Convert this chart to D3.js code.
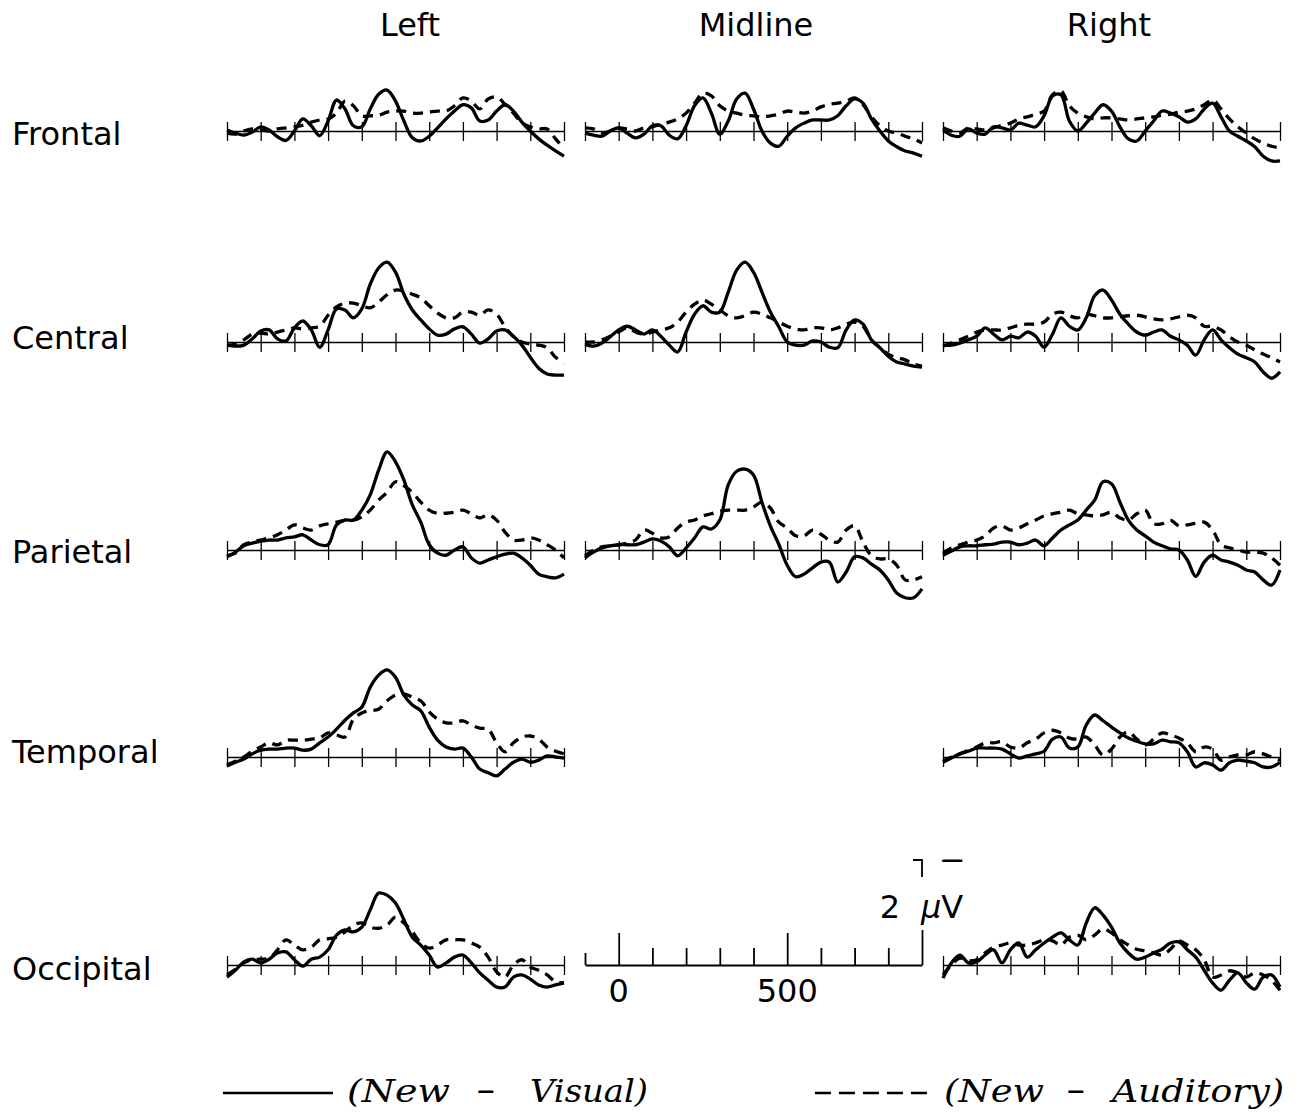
<!DOCTYPE html>
<html><head><meta charset="utf-8">
<script src="https://cdn.jsdelivr.net/npm/d3@7"></script>
<style>body{margin:0;background:#fff}svg{display:block}</style>
</head><body>
<svg id="c" width="1307" height="1115"></svg>
<script>
// ---------- categories & ticks ----------
const columns = ["Left", "Midline", "Right"];
const regions = ["Frontal", "Central", "Parietal", "Temporal", "Occipital"];
const times = [-100,-75,-50,-25,0,25,50,75,100,125,150,175,200,225,250,275,300,325,350,375,400,425,450,475,500,525,550,575,600,625,650,675,700,725,750,775,800,825,850,875,900];
const timeTicks = [-100,0,100,200,300,400,500,600,700,800,900];
const timeTickLabels = [0, 500];
const voltageBarUV = 2;
const legendLabels = ["(New", "\u2212", "Visual)", "(New", "\u2212", "Auditory)"];

// ---------- series values (µV, negative plotted up) ----------
const leftFrontalVisual = [-0.02,0.04,0.08,0.02,-0.08,-0.02,0.11,0.18,0,-0.23,-0.10,0.09,-0.19,-0.59,-0.42,-0.10,-0.08,-0.42,-0.70,-0.78,-0.57,-0.19,0.13,0.19,0.10,-0.06,-0.23,-0.38,-0.50,-0.44,-0.19,-0.21,-0.38,-0.50,-0.38,-0.17,0,0.15,0.27,0.38,0.48];
const leftFrontalAuditory = [0.04,0.06,0,-0.04,-0.02,0,-0.04,-0.06,-0.08,-0.11,-0.17,-0.21,-0.23,-0.34,-0.57,-0.48,-0.29,-0.29,-0.30,-0.36,-0.38,-0.38,-0.34,-0.34,-0.36,-0.38,-0.38,-0.48,-0.63,-0.57,-0.42,-0.61,-0.65,-0.51,-0.34,-0.15,-0.08,-0.04,-0.04,0.15,0.34];
const leftCentralVisual = [0.06,0.08,0.06,-0.06,-0.21,-0.23,-0.06,-0.02,-0.27,-0.40,-0.23,0.10,-0.23,-0.63,-0.61,-0.46,-0.63,-1.10,-1.41,-1.52,-1.33,-0.91,-0.61,-0.42,-0.25,-0.13,-0.15,-0.25,-0.29,-0.15,0.02,-0.06,-0.21,-0.23,-0.11,0.06,0.29,0.50,0.61,0.63,0.63];
const leftCentralAuditory = [0.06,0.04,-0.04,-0.15,-0.17,-0.15,-0.19,-0.23,-0.27,-0.25,-0.27,-0.30,-0.51,-0.67,-0.74,-0.74,-0.69,-0.65,-0.76,-0.90,-0.99,-0.97,-0.91,-0.84,-0.69,-0.55,-0.46,-0.46,-0.57,-0.57,-0.51,-0.61,-0.53,-0.29,-0.10,0,0.04,0.06,0.11,0.29,0.40];
const leftParietalVisual = [0.13,0.04,-0.08,-0.13,-0.17,-0.19,-0.19,-0.23,-0.25,-0.29,-0.19,-0.10,-0.10,-0.48,-0.57,-0.57,-0.76,-1.05,-1.52,-1.87,-1.68,-1.33,-0.86,-0.53,-0.10,0.06,0.10,0,-0.06,0.15,0.25,0.19,0.13,0.08,0.06,0.15,0.29,0.46,0.51,0.53,0.46];
const leftParietalAuditory = [0.11,0.06,-0.10,-0.15,-0.19,-0.23,-0.29,-0.38,-0.48,-0.42,-0.38,-0.46,-0.50,-0.53,-0.57,-0.57,-0.63,-0.76,-0.95,-1.10,-1.30,-1.22,-1.10,-0.91,-0.76,-0.70,-0.70,-0.72,-0.76,-0.69,-0.61,-0.67,-0.57,-0.34,-0.19,-0.19,-0.23,-0.19,-0.10,0,0.15];
const leftTemporalVisual = [0.17,0.10,0.04,-0.06,-0.13,-0.15,-0.15,-0.17,-0.17,-0.13,-0.15,-0.27,-0.38,-0.53,-0.70,-0.84,-0.95,-1.33,-1.56,-1.66,-1.52,-1.18,-0.99,-0.88,-0.57,-0.32,-0.19,-0.15,-0.17,0,0.23,0.30,0.36,0.23,0.10,0.04,0.10,0.06,-0.02,0,0.02];
const leftTemporalAuditory = [0.15,0.08,0,-0.11,-0.19,-0.27,-0.23,-0.32,-0.32,-0.32,-0.34,-0.36,-0.46,-0.42,-0.38,-0.72,-0.84,-0.88,-0.91,-1.07,-1.18,-1.20,-1.14,-1.07,-0.86,-0.72,-0.65,-0.65,-0.69,-0.61,-0.55,-0.53,-0.27,-0.10,-0.27,-0.38,-0.40,-0.34,-0.19,-0.11,-0.06];
const leftOccipitalVisual = [0.23,0.10,-0.06,-0.11,-0.04,-0.11,-0.23,-0.25,-0.10,0.02,-0.11,-0.15,-0.29,-0.57,-0.67,-0.63,-0.72,-1.05,-1.37,-1.33,-1.18,-0.86,-0.53,-0.38,-0.19,0.04,-0.04,-0.15,-0.19,-0.04,0.15,0.29,0.42,0.42,0.23,0.19,0.27,0.38,0.42,0.38,0.34];
const leftOccipitalAuditory = [0.19,0.08,-0.04,-0.10,-0.11,-0.13,-0.29,-0.48,-0.38,-0.29,-0.34,-0.48,-0.50,-0.53,-0.63,-0.76,-0.80,-0.72,-0.70,-0.76,-0.91,-0.80,-0.63,-0.42,-0.32,-0.38,-0.48,-0.48,-0.48,-0.42,-0.34,-0.15,0.13,0.23,0,-0.10,0.04,0.10,0.19,0.32,0.34];
const midlineFrontalVisual = [0.04,0.08,0.10,0,-0.06,0.04,0.13,0.06,-0.10,-0.10,0.08,0.15,-0.10,-0.48,-0.63,-0.34,0.06,-0.19,-0.61,-0.72,-0.42,0,0.23,0.29,0.10,-0.06,-0.15,-0.21,-0.21,-0.21,-0.29,-0.48,-0.61,-0.53,-0.23,0,0.19,0.30,0.38,0.42,0.48];
const midlineFrontalAuditory = [-0.06,-0.04,0.04,0,-0.06,-0.04,0,-0.06,-0.08,-0.13,-0.17,-0.23,-0.34,-0.53,-0.72,-0.67,-0.48,-0.38,-0.34,-0.30,-0.29,-0.27,-0.29,-0.32,-0.38,-0.36,-0.34,-0.38,-0.46,-0.51,-0.53,-0.57,-0.63,-0.50,-0.27,-0.10,0,0.04,0.10,0.15,0.23];
const midlineCentralVisual = [0.04,0.08,0.02,-0.10,-0.23,-0.30,-0.23,-0.15,-0.23,-0.11,0.06,0.19,-0.19,-0.53,-0.69,-0.57,-0.57,-0.95,-1.37,-1.52,-1.33,-0.95,-0.57,-0.29,0,0.06,0.06,-0.02,0,0.10,0.11,-0.23,-0.42,-0.34,-0.04,0.11,0.27,0.38,0.42,0.46,0.48];
const midlineCentralAuditory = [0,0,-0.04,-0.11,-0.19,-0.27,-0.19,-0.15,-0.19,-0.23,-0.27,-0.38,-0.57,-0.72,-0.80,-0.72,-0.61,-0.50,-0.46,-0.50,-0.57,-0.53,-0.46,-0.38,-0.30,-0.25,-0.23,-0.27,-0.27,-0.23,-0.27,-0.34,-0.38,-0.30,-0.04,0.11,0.23,0.30,0.34,0.42,0.46];
const midlineParietalVisual = [0.15,0.04,-0.04,-0.08,-0.10,-0.10,-0.10,-0.15,-0.21,-0.17,-0.06,0.11,-0.04,-0.23,-0.44,-0.40,-0.57,-1.24,-1.50,-1.54,-1.43,-0.91,-0.46,-0.11,0.29,0.51,0.46,0.34,0.23,0.23,0.61,0.42,0.13,0.15,0.27,0.38,0.57,0.82,0.91,0.91,0.74];
const midlineParietalAuditory = [0.11,0,-0.06,-0.08,-0.10,-0.13,-0.19,-0.38,-0.32,-0.23,-0.25,-0.42,-0.53,-0.57,-0.65,-0.69,-0.74,-0.76,-0.76,-0.76,-0.82,-0.91,-0.80,-0.53,-0.42,-0.27,-0.27,-0.38,-0.30,-0.19,-0.15,-0.38,-0.46,-0.15,0.11,0.17,0.17,0.29,0.57,0.57,0.51];
const rightFrontalVisual = [-0.02,0.08,0.10,-0.04,0.04,0.06,-0.08,-0.06,-0.02,-0.15,-0.11,-0.08,-0.29,-0.67,-0.69,-0.19,0,-0.15,-0.34,-0.50,-0.38,-0.08,0.15,0.19,0,-0.19,-0.38,-0.34,-0.27,-0.17,-0.23,-0.42,-0.53,-0.27,0,0.10,0.19,0.30,0.48,0.57,0.57];
const rightFrontalAuditory = [-0.06,0,0.04,-0.06,-0.04,-0.02,-0.06,-0.11,-0.15,-0.23,-0.27,-0.32,-0.38,-0.69,-0.76,-0.48,-0.34,-0.27,-0.23,-0.25,-0.25,-0.23,-0.21,-0.23,-0.25,-0.27,-0.30,-0.32,-0.36,-0.38,-0.42,-0.50,-0.59,-0.42,-0.23,-0.08,0.04,0.15,0.23,0.29,0.32];
const rightCentralVisual = [0.06,0.06,0.02,-0.04,-0.11,-0.27,-0.15,-0.04,-0.11,-0.08,-0.19,-0.11,0.10,-0.15,-0.46,-0.30,-0.23,-0.46,-0.88,-0.99,-0.80,-0.53,-0.34,-0.19,-0.13,-0.19,-0.23,-0.11,-0.04,0.06,0.25,-0.04,-0.23,-0.04,0.11,0.23,0.30,0.38,0.57,0.69,0.57];
const rightCentralAuditory = [0.08,0.02,-0.04,-0.11,-0.19,-0.23,-0.23,-0.23,-0.27,-0.32,-0.34,-0.34,-0.38,-0.53,-0.57,-0.50,-0.46,-0.53,-0.50,-0.46,-0.46,-0.48,-0.50,-0.51,-0.48,-0.44,-0.42,-0.44,-0.48,-0.51,-0.46,-0.30,-0.30,-0.23,-0.10,0,0.06,0.15,0.23,0.30,0.38];
const rightParietalVisual = [0.10,0.02,-0.06,-0.08,-0.08,-0.10,-0.11,-0.15,-0.15,-0.10,-0.13,-0.19,-0.08,-0.23,-0.38,-0.48,-0.57,-0.76,-0.95,-1.30,-1.26,-0.91,-0.57,-0.38,-0.27,-0.15,-0.08,-0.02,0,0.19,0.50,0.23,0.10,0.19,0.23,0.29,0.38,0.42,0.57,0.67,0.38];
const rightParietalAuditory = [0.06,-0.04,-0.10,-0.15,-0.19,-0.27,-0.42,-0.46,-0.38,-0.42,-0.50,-0.57,-0.65,-0.69,-0.72,-0.76,-0.69,-0.67,-0.65,-0.67,-0.72,-0.61,-0.57,-0.69,-0.76,-0.50,-0.50,-0.57,-0.46,-0.48,-0.51,-0.53,-0.38,-0.10,-0.04,0,0.04,0.04,0.06,0.15,0.29];
const rightTemporalVisual = [0.10,0.02,-0.06,-0.11,-0.17,-0.17,-0.17,-0.15,-0.06,0.02,-0.02,-0.06,-0.11,-0.34,-0.38,-0.17,-0.19,-0.61,-0.80,-0.69,-0.57,-0.46,-0.36,-0.30,-0.25,-0.25,-0.32,-0.29,-0.27,-0.10,0.19,0.11,0.15,0.25,0.11,0.06,0.08,0.11,0.19,0.19,0.10];
const rightTemporalAuditory = [0.08,0,-0.06,-0.13,-0.19,-0.27,-0.27,-0.29,-0.19,-0.17,-0.27,-0.34,-0.46,-0.51,-0.46,-0.36,-0.34,-0.38,-0.23,-0.04,-0.15,-0.38,-0.48,-0.34,-0.23,-0.34,-0.46,-0.42,-0.36,-0.27,-0.10,-0.19,-0.15,0.06,0,-0.04,-0.04,-0.10,-0.06,0,0.06];
const rightOccipitalVisual = [0.25,-0.04,-0.19,-0.04,-0.06,-0.19,-0.29,-0.04,-0.29,-0.42,-0.15,-0.29,-0.42,-0.53,-0.61,-0.48,-0.38,-0.80,-1.09,-0.95,-0.72,-0.42,-0.23,-0.11,-0.15,-0.23,-0.30,-0.42,-0.44,-0.29,-0.15,0.10,0.34,0.48,0.29,0.15,0.34,0.46,0.23,0.19,0.42];
const rightOccipitalAuditory = [0.19,0,-0.13,-0.08,-0.10,-0.23,-0.34,-0.38,-0.42,-0.38,-0.38,-0.42,-0.48,-0.46,-0.38,-0.53,-0.57,-0.48,-0.57,-0.69,-0.61,-0.48,-0.38,-0.30,-0.27,-0.23,-0.19,-0.30,-0.46,-0.38,-0.29,-0.10,0.23,0.19,0.11,0.15,0.23,0.15,0.19,0.29,0.48];

const panels = [
  {col:"Left", row:"Frontal", visual:leftFrontalVisual, auditory:leftFrontalAuditory},
  {col:"Left", row:"Central", visual:leftCentralVisual, auditory:leftCentralAuditory},
  {col:"Left", row:"Parietal", visual:leftParietalVisual, auditory:leftParietalAuditory},
  {col:"Left", row:"Temporal", visual:leftTemporalVisual, auditory:leftTemporalAuditory},
  {col:"Left", row:"Occipital", visual:leftOccipitalVisual, auditory:leftOccipitalAuditory},
  {col:"Midline", row:"Frontal", visual:midlineFrontalVisual, auditory:midlineFrontalAuditory},
  {col:"Midline", row:"Central", visual:midlineCentralVisual, auditory:midlineCentralAuditory},
  {col:"Midline", row:"Parietal", visual:midlineParietalVisual, auditory:midlineParietalAuditory},
  {col:"Right", row:"Frontal", visual:rightFrontalVisual, auditory:rightFrontalAuditory},
  {col:"Right", row:"Central", visual:rightCentralVisual, auditory:rightCentralAuditory},
  {col:"Right", row:"Parietal", visual:rightParietalVisual, auditory:rightParietalAuditory},
  {col:"Right", row:"Temporal", visual:rightTemporalVisual, auditory:rightTemporalAuditory},
  {col:"Right", row:"Occipital", visual:rightOccipitalVisual, auditory:rightOccipitalAuditory}
];

// ---------- layout ----------
const svg = d3.select("#c");
const colX = {Left:227, Midline:585, Right:943};
const colCenter = {Left:410, Midline:756, Right:1109};
const panelW = 337;
const rowBase = {Frontal:131, Central:342, Parietal:550, Temporal:757, Occipital:965};
const rowLabelY = {Frontal:145, Central:349, Parietal:563, Temporal:763, Occipital:980};
const pxPerUV = 52.5;
const sansFont = "DejaVu Sans, sans-serif";

function xScale(col){ return d3.scaleLinear().domain([-100,900]).range([colX[col], colX[col]+panelW]); }
function yScale(row){ return d3.scaleLinear().domain([0,-voltageBarUV]).range([rowBase[row], rowBase[row]-voltageBarUV*pxPerUV]); }

// column titles
svg.selectAll("text.col").data(columns).join("text")
  .attr("x", d=>colCenter[d]).attr("y", 36).attr("text-anchor","middle")
  .attr("font-family", sansFont).attr("font-size", 32).text(d=>d);
// row labels
svg.selectAll("text.row").data(regions).join("text")
  .attr("x", 12).attr("y", d=>rowLabelY[d])
  .attr("font-family", sansFont).attr("font-size", 32).text(d=>d);

// panels
panels.forEach(p=>{
  const x = xScale(p.col), y = yScale(p.row);
  const g = svg.append("g");
  const ax = g.append("g").attr("transform", `translate(0,${rowBase[p.row]})`)
    .call(d3.axisBottom(x).tickValues(timeTicks).tickSizeInner(10).tickSizeOuter(0).tickFormat(""));
  ax.select(".domain").attr("stroke","#000").attr("stroke-width",1.4);
  ax.selectAll(".tick line").attr("y1",-9).attr("y2",10).attr("stroke","#000").attr("stroke-width",1.3);
  const line = d3.line().x((d,i)=>x(times[i])).y(d=>y(d)).curve(d3.curveCatmullRom.alpha(0.5));
  g.append("path").datum(p.auditory).attr("d", line).attr("fill","none")
    .attr("stroke","#000").attr("stroke-width",3.3).attr("stroke-dasharray","10,7").attr("stroke-linecap","butt");
  g.append("path").datum(p.visual).attr("d", line).attr("fill","none")
    .attr("stroke","#000").attr("stroke-width",3.3).attr("stroke-linejoin","round");
});

// scale bar (in the empty Midline/Occipital slot)
{
  const x = xScale("Midline"), y = yScale("Occipital");
  const b = rowBase.Occipital;
  const tickLen = t => t===-100 ? 12 : (timeTickLabels.includes(t) ? 32 : (t===900 ? 35 : 17));
  const ax = svg.append("g").attr("transform", `translate(0,${b})`)
    .call(d3.axisTop(x).tickValues(timeTicks).tickSizeOuter(0).tickFormat(""));
  ax.select(".domain").attr("stroke","#000").attr("stroke-width",1.8);
  ax.selectAll(".tick line").attr("y2", d=>-tickLen(d)).attr("stroke","#000").attr("stroke-width",1.8);
  svg.selectAll("text.tl").data(timeTickLabels).join("text")
    .attr("x", d=>x(d)).attr("y", b+37).attr("text-anchor","middle")
    .attr("font-family", sansFont).attr("font-size", 32).text(d=>d);
  const xe = x(900);
  const yTop = y(-voltageBarUV);
  svg.append("path").attr("d", `M${xe-9},${yTop}H${xe}V${yTop+17}`).attr("fill","none").attr("stroke","#000").attr("stroke-width",1.8);
  svg.append("text").attr("x", xe-32).attr("y", b-47).attr("text-anchor","middle")
    .attr("font-family", sansFont).attr("font-size", 32).text(voltageBarUV);
  const uv = svg.append("text").attr("x", xe-1).attr("y", b-47)
    .attr("font-family", sansFont).attr("font-size", 32);
  uv.append("tspan").attr("font-style","italic").text("\u03bc");
  uv.append("tspan").text("V");
  svg.append("text").attr("x", xe+17).attr("y", yTop+11)
    .attr("font-family", sansFont).attr("font-size", 32).text("\u2212");
}

// legend
{
  const ly = 1093, ty = 1102;
  svg.append("line").attr("x1",223).attr("x2",333).attr("y1",ly).attr("y2",ly).attr("stroke","#000").attr("stroke-width",2.6);
  svg.append("line").attr("x1",815).attr("x2",927).attr("y1",ly).attr("y2",ly).attr("stroke","#000").attr("stroke-width",2.6).attr("stroke-dasharray","16,8");
  const pieces = [
    {t:legendLabels[0], x:347, w:103}, {t:legendLabels[1], x:476, w:20}, {t:legendLabels[2], x:530, w:118},
    {t:legendLabels[3], x:944, w:100}, {t:legendLabels[4], x:1066, w:20}, {t:legendLabels[5], x:1112, w:172}
  ];
  svg.selectAll("text.leg").data(pieces).join("text")
    .attr("x", d=>d.x).attr("y", ty)
    .attr("font-family","DejaVu Serif, serif").attr("font-style","italic").attr("font-size", 32)
    .attr("textLength", d=>d.w).attr("lengthAdjust","spacingAndGlyphs").text(d=>d.t);
}
</script>
</body></html>
